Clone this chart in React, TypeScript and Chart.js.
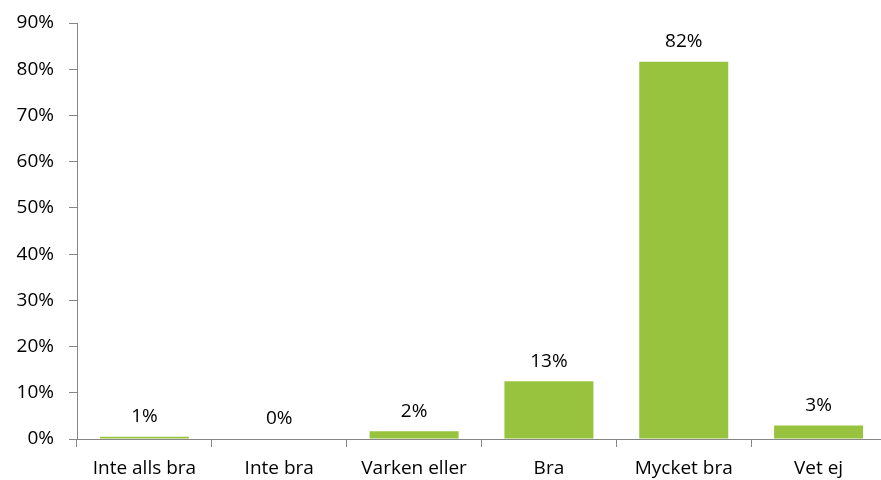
import React, { useEffect, useRef } from "react";
import { Chart, registerables } from "chart.js";

Chart.register(...registerables);

const categories = ["Inte alls bra", "Inte bra", "Varken eller", "Bra", "Mycket bra", "Vet ej"];
const values = [0.5, 0, 1.7, 12.5, 81.6, 2.9];
const valueLabels = ["1%", "0%", "2%", "13%", "82%", "3%"];
const yTicks = [0, 10, 20, 30, 40, 50, 60, 70, 80, 90];

const FONT = "'Open Sans', sans-serif";
const AXIS = "#868686";
const GREEN = "#98C33E";

const labelPlugin = {
  id: "barLabels",
  afterDatasetsDraw(chart: any) {
    const ctx = chart.ctx;
    const meta = chart.getDatasetMeta(0);
    ctx.save();
    ctx.font = `19px ${FONT}`;
    ctx.fillStyle = "#000";
    ctx.textAlign = "center";
    ctx.textBaseline = "middle";
    meta.data.forEach((bar: any, i: number) => {
      ctx.fillText(valueLabels[i], bar.x, bar.y - 20);
    });
    ctx.restore();
  },
};

export default function App() {
  const ref = useRef<HTMLCanvasElement>(null);
  useEffect(() => {
    document.body.style.margin = "0";
    const chart = new Chart(ref.current!, {
      type: "bar",
      data: {
        labels: categories,
        datasets: [
          {
            data: values,
            backgroundColor: GREEN,
            borderWidth: 0,
            categoryPercentage: 0.66,
            barPercentage: 1,
          },
        ],
      },
      options: {
        animation: false,
        responsive: false,
        layout: { padding: { top: 23, right: 0, left: 0, bottom: 0 } },
        plugins: { legend: { display: false }, tooltip: { enabled: false } },
        scales: {
          y: {
            min: 0,
            max: 90,
            afterFit(scale: any) {
              scale.width = 77;
              scale.paddingTop = 0;
              scale.paddingBottom = 0;
            },
            afterBuildTicks(scale: any) {
              scale.ticks = yTicks.map((v) => ({ value: v }));
            },
            border: { color: AXIS, width: 1 },
            grid: { drawOnChartArea: false, drawTicks: true, tickLength: 8, color: AXIS },
            ticks: {
              callback: (v: any) => v + "%",
              color: "#000",
              font: { family: FONT, size: 19 },
              padding: 15,
            },
          },
          x: {
            afterFit(scale: any) {
              scale.height = 41;
              scale.paddingLeft = 0;
              scale.paddingRight = 0;
            },
            border: { color: AXIS, width: 1 },
            grid: { drawOnChartArea: false, drawTicks: true, tickLength: 8, color: AXIS, offset: true },
            ticks: {
              color: "#000",
              font: { family: FONT, size: 19 },
              padding: 10,
              maxRotation: 0,
            },
          },
        },
      },
      plugins: [labelPlugin],
    });
    return () => chart.destroy();
  }, []);
  return (
    <div style={{ width: 881, height: 480, overflow: "hidden" }}>
      <canvas ref={ref} width={886} height={480} />
    </div>
  );
}
